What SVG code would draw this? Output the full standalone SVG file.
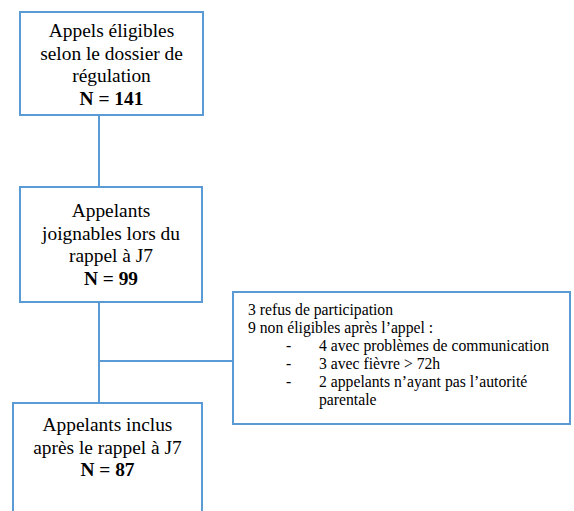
<svg xmlns="http://www.w3.org/2000/svg" width="574" height="511" viewBox="0 0 574 511">
<style>
.box{fill:#fff;stroke:#5b9bd5;stroke-width:2}
.ln{stroke:#5b9bd5;stroke-width:2;fill:none}
.t{font-family:"Liberation Serif","Times New Roman",serif;font-size:19.4px;fill:#000;text-anchor:middle}
.b{font-weight:bold}
.s{font-family:"Liberation Serif","Times New Roman",serif;font-size:15.7px;fill:#000}
</style>
<rect width="574" height="511" fill="#fff"/>
<g id="connectors">
<line class="ln" x1="99" y1="115" x2="99" y2="187"/>
<line class="ln" x1="99" y1="302" x2="99" y2="403"/>
<line class="ln" x1="99" y1="361" x2="233" y2="361"/>
</g>
<g id="n1">
<rect class="box" x="20" y="12" width="183" height="103"/>
<text class="t" x="111.5" y="37">Appels éligibles</text>
<text class="t" x="111.5" y="59.5">selon le dossier de</text>
<text class="t" x="111.5" y="82">régulation</text>
<text class="t b" x="111.5" y="104.5">N = 141</text>
</g>
<g id="n2">
<rect class="box" x="20" y="187" width="182" height="115"/>
<text class="t" x="111" y="217">Appelants</text>
<text class="t" x="111" y="239.5">joignables lors du</text>
<text class="t" x="111" y="262">rappel à J7</text>
<text class="t b" x="111" y="284.5">N = 99</text>
</g>
<g id="n3">
<rect class="box" x="13" y="403" width="189" height="120"/>
<text class="t" x="107.5" y="431">Appelants inclus</text>
<text class="t" x="107.5" y="453.5">après le rappel à J7</text>
<text class="t b" x="107.5" y="476">N = 87</text>
</g>
<g id="n4">
<rect class="box" x="233" y="292" width="337" height="132"/>
<text class="s" x="248" y="315">3 refus de participation</text>
<text class="s" x="248" y="333">9 non éligibles après l’appel :</text>
<text class="s" x="286" y="351">-</text>
<text class="s" x="319" y="351">4 avec problèmes de communication</text>
<text class="s" x="286" y="369">-</text>
<text class="s" x="319" y="369">3 avec fièvre &gt; 72h</text>
<text class="s" x="286" y="387">-</text>
<text class="s" x="319" y="387">2 appelants n’ayant pas l’autorité</text>
<text class="s" x="319" y="405">parentale</text>
</g>
</svg>
